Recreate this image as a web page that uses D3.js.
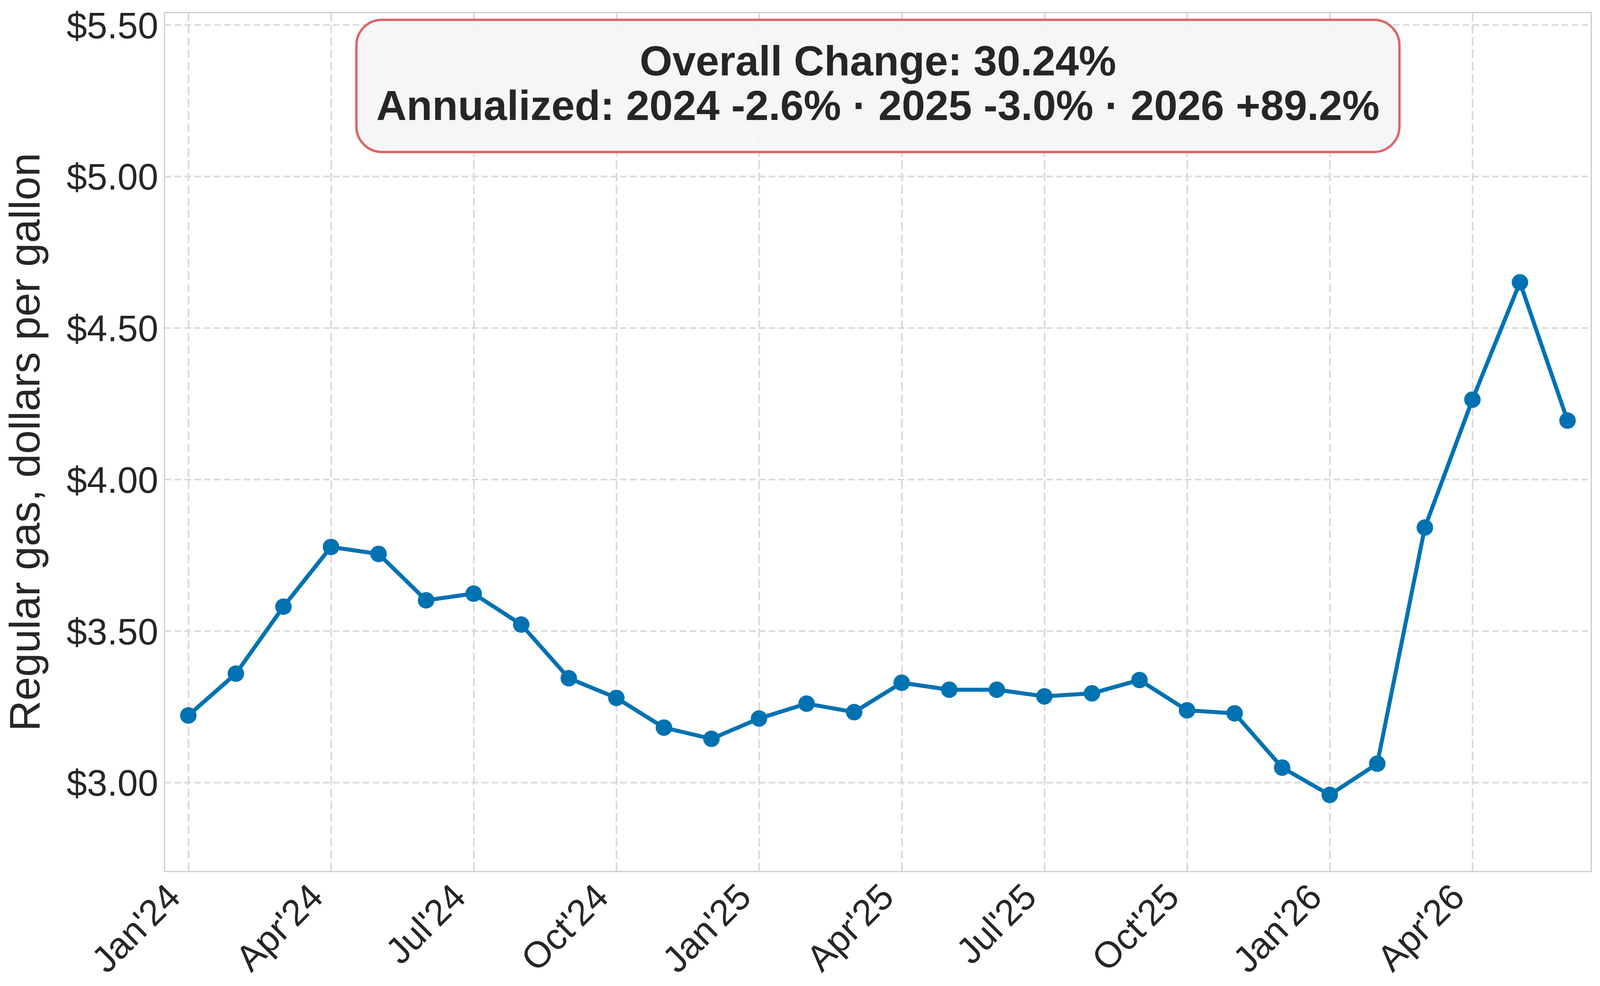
<!DOCTYPE html>
<html>
<head>
<meta charset="utf-8">
<script src="https://cdn.jsdelivr.net/npm/d3@7"></script>
<style>
  html, body { margin: 0; padding: 0; background: #ffffff; overflow: hidden; }
  svg { display: block; }
  text { font-family: "Liberation Sans", Arial, sans-serif; fill: #262626; }
</style>
</head>
<body>
<div id="chart"></div>
<script>
// monthly average regular gas price, Jan 2024 .. Jun 2026
var months = ["2024-01","2024-02","2024-03","2024-04","2024-05","2024-06",
              "2024-07","2024-08","2024-09","2024-10","2024-11","2024-12",
              "2025-01","2025-02","2025-03","2025-04","2025-05","2025-06",
              "2025-07","2025-08","2025-09","2025-10","2025-11","2025-12",
              "2026-01","2026-02","2026-03","2026-04","2026-05","2026-06"];
var prices = [3.221, 3.359, 3.580, 3.777, 3.754, 3.601,
              3.623, 3.521, 3.344, 3.279, 3.181, 3.144,
              3.211, 3.260, 3.232, 3.329, 3.306, 3.306,
              3.284, 3.294, 3.338, 3.238, 3.228, 3.049,
              2.959, 3.062, 3.841, 4.263, 4.650, 4.194];

// x ticks every 3 months
var xTickIndex = [0, 3, 6, 9, 12, 15, 18, 21, 24, 27];
var xTickLabels = ["Jan'24","Apr'24","Jul'24","Oct'24","Jan'25",
                   "Apr'25","Jul'25","Oct'25","Jan'26","Apr'26"];
var yTicks = [3.0, 3.5, 4.0, 4.5, 5.0, 5.5];

var boxLines = ["Overall Change: 30.24%",
                "Annualized: 2024 -2.6% \u00b7 2025 -3.0% \u00b7 2026 +89.2%"];

// svg area: fill the window, sizes are laid out for 5329 x 2523
var svgWidth = window.innerWidth || 5329;
var svgHeight = window.innerHeight || 2523;
var s = Math.min(svgWidth / 5329, svgHeight / 2523);

var margin = { top: 42 * s, right: 29 * s, bottom: 381 * s, left: 548 * s };
var chartWidth = svgWidth - margin.left - margin.right;
var chartHeight = svgHeight - margin.top - margin.bottom;

var svg = d3.select("#chart")
    .append("svg")
    .attr("width", svgWidth)
    .attr("height", svgHeight);

var chartGroup = svg.append("g")
    .attr("transform", `translate(${margin.left}, ${margin.top})`);

// scales
var xScale = d3.scaleLinear()
    .domain([-0.5, months.length - 0.5])
    .range([0, chartWidth]);

var yScale = d3.scaleLinear()
    .domain([2.706, 5.54])
    .range([chartHeight, 0]);

// grid lines
chartGroup.append("g")
    .attr("class", "grid-x")
    .call(d3.axisBottom(xScale).tickValues(xTickIndex).tickSize(chartHeight).tickFormat(""))
    .call(g => g.select(".domain").remove())
    .selectAll("line")
    .attr("stroke", "#dadada")
    .attr("stroke-width", 5.5 * s)
    .attr("stroke-dasharray", `${29 * s},${12 * s}`);

chartGroup.append("g")
    .attr("class", "grid-y")
    .call(d3.axisLeft(yScale).tickValues(yTicks).tickSize(-chartWidth).tickFormat(""))
    .call(g => g.select(".domain").remove())
    .selectAll("line")
    .attr("stroke", "#dadada")
    .attr("stroke-width", 5.5 * s)
    .attr("stroke-dasharray", `${22 * s},${11 * s}`);

// frame
chartGroup.append("rect")
    .attr("x", 0)
    .attr("y", 0)
    .attr("width", chartWidth)
    .attr("height", chartHeight)
    .attr("fill", "none")
    .attr("stroke", "#cccccc")
    .attr("stroke-width", 4 * s);

// line + markers
var line = d3.line()
    .x((d, i) => xScale(i))
    .y(d => yScale(d));

chartGroup.append("path")
    .datum(prices)
    .attr("d", line)
    .attr("fill", "none")
    .attr("stroke", "#0072B2")
    .attr("stroke-width", 13.5 * s)
    .attr("stroke-linejoin", "round");

chartGroup.selectAll("circle")
    .data(prices)
    .enter()
    .append("circle")
    .attr("cx", (d, i) => xScale(i))
    .attr("cy", d => yScale(d))
    .attr("r", 27.5 * s)
    .attr("fill", "#0072B2");

// y axis labels
chartGroup.append("g")
    .attr("class", "axis")
    .call(d3.axisLeft(yScale)
        .tickValues(yTicks)
        .tickSize(0)
        .tickPadding(21 * s)
        .tickFormat(d => "$" + d.toFixed(2)))
    .call(g => g.select(".domain").remove())
    .selectAll("text")
    .attr("dy", "0.36em")
    .style("font-size", `${122 * s}px`)
    .style("fill", "#262626");

// x axis labels, rotated
chartGroup.append("g")
    .attr("class", "axis")
    .attr("transform", `translate(0, ${chartHeight})`)
    .call(d3.axisBottom(xScale)
        .tickValues(xTickIndex)
        .tickSize(0)
        .tickFormat((d, i) => xTickLabels[i]))
    .call(g => g.select(".domain").remove())
    .selectAll("text")
    .attr("x", 0)
    .attr("y", 0)
    .attr("dy", null)
    .attr("transform", `translate(${-20 * s}, ${92 * s}) rotate(-45)`)
    .style("text-anchor", "end")
    .style("font-size", `${122 * s}px`)
    .style("fill", "#262626");

// y axis title
svg.append("text")
    .attr("transform", `translate(${132 * s}, ${margin.top + chartHeight / 2}) rotate(-90)`)
    .style("text-anchor", "middle")
    .style("font-size", `${142 * s}px`)
    .text("Regular gas, dollars per gallon");

// summary box, centred over the plot
var boxW = 3474 * s, boxH = 440 * s;
var boxX = margin.left + chartWidth / 2 - boxW / 2;
var boxY = 66 * s;
svg.append("rect")
    .attr("x", boxX)
    .attr("y", boxY)
    .attr("width", boxW)
    .attr("height", boxH)
    .attr("rx", 85 * s)
    .attr("ry", 85 * s)
    .attr("fill", "#f5f5f5")
    .attr("fill-opacity", 0.9)
    .attr("stroke", "#df6566")
    .attr("stroke-width", 8 * s);

svg.selectAll(".boxline")
    .data(boxLines)
    .enter()
    .append("text")
    .attr("class", "boxline")
    .attr("x", boxX + boxW / 2)
    .attr("y", (d, i) => boxY + (185 + i * 148) * s)
    .style("text-anchor", "middle")
    .style("font-size", `${140 * s}px`)
    .style("font-weight", "bold")
    .text(d => d);
</script>
</body>
</html>
